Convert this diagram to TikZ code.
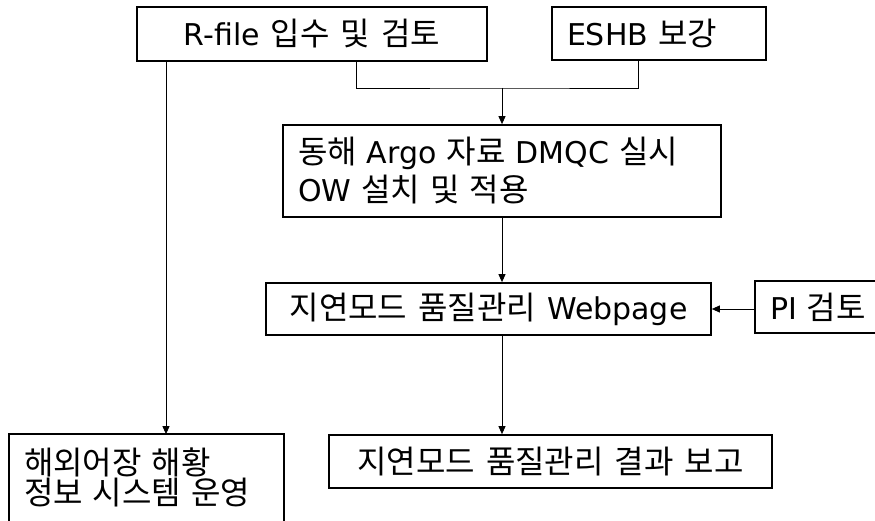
\documentclass[tikz,border=0pt]{standalone}
\usepackage{fontspec}
\setmainfont{DejaVu Sans}
\newfontfamily\krfont[Scale=1.0667]{Noto Sans CJK KR}
\newcommand\ko[1]{{\krfont #1}}
\newcommand\boxfont{\fontsize{30}{36}\selectfont\spaceskip=11pt plus 2pt minus 2pt\relax}
\newcommand\boxfontwide{\fontsize{30}{38}\selectfont\spaceskip=11pt plus 2pt minus 2pt\relax}
\newcommand\boxfonttight{\fontsize{30}{30}\selectfont\spaceskip=11pt plus 2pt minus 2pt\relax}
\usetikzlibrary{arrows.meta}

\tikzset{
  boxline/.style={line width=1.7pt, draw=black},
  flowbox/.style={boxline, inner sep=0pt, font=\boxfont},
  link/.style={line width=0.9pt, draw=black},
  arrowlink/.style={link, -{Triangle[length=8pt,width=7pt]}},
}

\begin{document}
\begin{tikzpicture}[x=1pt,y=-1pt]
  \useasboundingbox (0,0) rectangle (875,521);
  \clip (0,0) rectangle (875,521);

  % top row
  \node[flowbox, minimum width=350pt, minimum height=54pt] (rfile) at (312,34)
    {R-file \ko{입수 및 검토}};
  \node[flowbox, minimum width=214pt, minimum height=53pt, text width=184pt, align=left] (eshb) at (659,33.5)
    {ESHB \ko{보강}};

  % DMQC step
  \node[flowbox, minimum width=438pt, minimum height=92pt, text width=408pt, align=left,
        font=\boxfontwide] (dmqc) at (502,171)
    {\ko{동해} Argo \ko{자료} DMQC \ko{실시}\\OW \ko{설치 및 적용}};

  % web page and PI review
  \node[flowbox, minimum width=445pt, minimum height=52pt] (web) at (488.5,309)
    {\ko{지연모드 품질관리} Webpage};
  \node[flowbox, minimum width=170pt, minimum height=52pt, text width=140pt, align=left] (pi) at (840,307)
    {PI \ko{검토}};

  % bottom row
  \node[flowbox, minimum width=443pt, minimum height=53pt] (result) at (550.5,461.5)
    {\ko{지연모드 품질관리 결과 보고}};
  \node[flowbox, draw=none, minimum width=273pt, minimum height=84pt, text width=245pt, align=left,
        font=\boxfonttight] (overseas) at (146.5,477)
    {\ko{해외어장 해황}\\\ko{정보 시스템 운영}};
  \draw[boxline] ([yshift=-40pt]overseas.south west) -- (overseas.north west)
    -- (overseas.north east) -- ([yshift=-40pt]overseas.south east);

  % connectors
  \coordinate (join) at (502,88);
  \draw[link] (rfile.south -| 356,0) |- (join) -| (eshb.south -| 638,0);
  \draw[arrowlink] (join) -- (dmqc.north);
  \draw[arrowlink] (rfile.south -| 166,0) -- (overseas.north -| 166,0);
  \draw[arrowlink] (dmqc.south) -- (web.north -| dmqc.south);
  \draw[arrowlink] (pi.west |- web.east) -- (web.east);
  \draw[arrowlink] (web.south -| dmqc.south) -- (result.north -| dmqc.south);
\end{tikzpicture}
\end{document}
